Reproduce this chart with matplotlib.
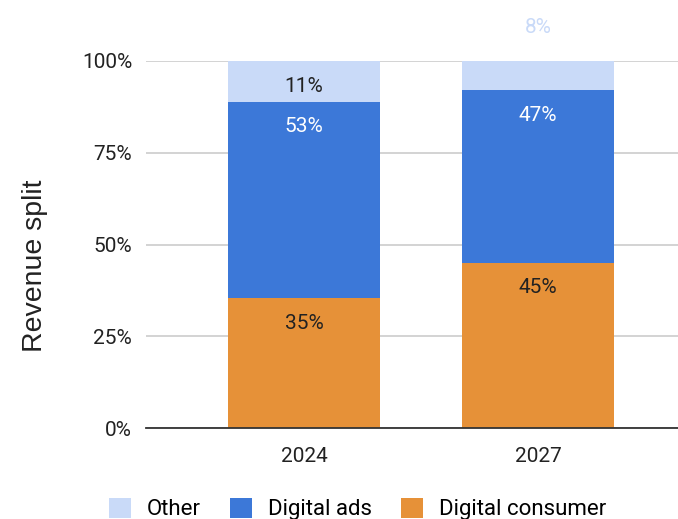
import matplotlib.pyplot as plt
from matplotlib.ticker import PercentFormatter

years = ['2024', '2027']
digital_consumer = [35, 45]
digital_ads = [53, 47]
other = [11, 8]

plt.rcParams['font.family'] = ['Roboto', 'DejaVu Sans']

fig = plt.figure(figsize=(6.78, 5.19), dpi=100)
ax = fig.add_axes([146 / 678, 1 - 428 / 519, 550 / 678, 367 / 519])

# 100% stacked: normalise each year by its total
totals = [a + b + c for a, b, c in zip(digital_consumer, digital_ads, other)]
series = [
    ('Digital consumer', digital_consumer, '#e69138', '#222222'),
    ('Digital ads', digital_ads, '#3c78d8', '#ffffff'),
    ('Other', other, '#c9daf8', '#222222'),
]

x = range(len(years))
bottom = [0.0] * len(years)
bars = {}
for name, vals, color, txt in series:
    share = [v / t * 100 for v, t in zip(vals, totals)]
    bars[name] = ax.bar(x, share, width=0.65, bottom=bottom, color=color,
                        label=name, zorder=2)
    for i, (v, s) in enumerate(zip(vals, share)):
        top = bottom[i] + s
        if s < 10:
            # too thin for the label, put it above the bar
            ax.annotate(f'{v}%', (i, top), xytext=(0, 24), textcoords='offset points',
                        ha='center', va='center', fontsize=15, color=color,
                        annotation_clip=False)
        else:
            ax.annotate(f'{v}%', (i, top), xytext=(0, -18), textcoords='offset points',
                        ha='center', va='center', fontsize=15, color=txt)
    bottom = [b + s for b, s in zip(bottom, share)]

ax.set_ylim(0, 100)
ax.set_xlim(-0.675, 1.675)
ax.set_yticks([0, 25, 50, 75, 100])
ax.yaxis.set_major_formatter(PercentFormatter(decimals=0))
ax.set_xticks(list(x))
ax.set_xticklabels(years)
ax.tick_params(length=0, labelsize=15, colors='#222222', pad=10)
ax.tick_params(axis='x', pad=14)
ax.grid(axis='y', color='#cccccc', linewidth=1.2, zorder=0)
for side in ['top', 'right', 'left']:
    ax.spines[side].set_visible(False)
ax.spines['bottom'].set_color('#333333')
ax.spines['bottom'].set_linewidth(1.3)
ax.spines['bottom'].set_zorder(3)

fig.text(35 / 678, 1 - 266 / 519, 'Revenue split', rotation=90, ha='center', va='center',
         fontsize=20.5, family=['Liberation Sans', 'DejaVu Sans'], color='#222222')

handles = [bars['Other'], bars['Digital ads'], bars['Digital consumer']]
fig.legend(handles, ['Other', 'Digital ads', 'Digital consumer'], loc='center left',
           bbox_to_anchor=(109 / 678, 1 - 509 / 519), ncol=3, frameon=False,
           fontsize=16, handlelength=1, handleheight=1, handletextpad=0.72,
           columnspacing=1.3, borderpad=0, borderaxespad=0)

fig.savefig('out.png', dpi=100)
